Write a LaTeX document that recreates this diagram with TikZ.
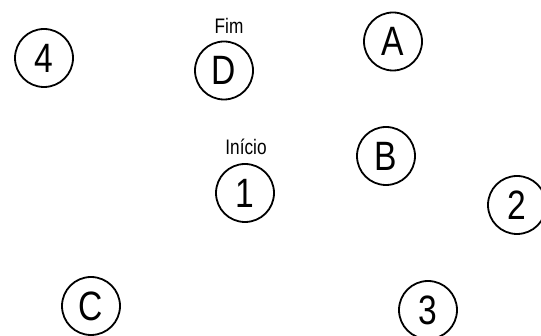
\documentclass[tikz,border=0pt]{standalone}
\usepackage{fontspec}
\newfontfamily\narrowfont[FakeStretch=0.82]{Liberation Sans}
\begin{document}
\begin{tikzpicture}[x=1pt,y=-1pt,
  state/.style={circle,draw,line width=1.8pt,minimum size=58pt,inner sep=0pt,
    font=\narrowfont\fontsize{41}{41}\selectfont},
  tag/.style={inner sep=0pt,font=\narrowfont\fontsize{21}{21}\selectfont}]
\useasboundingbox (0,0) rectangle (541,336);
\node[state] (n4) at (44,58) {4};
\node[state] (nD) at (224,70.5) {D};
\node[tag]   (fim) at (229,26) {Fim};
\node[state] (nA) at (393,41.5) {A};
\node[state] (nB) at (386,156) {B};
\node[tag]   (inicio) at (246,147) {Início};
\node[state] (n1) at (245,193) {1};
\node[state] (n2) at (517,205) {2};
\node[state] (nC) at (91,306) {C};
\node[state] (n3) at (428,310) {3};
\end{tikzpicture}
\end{document}
